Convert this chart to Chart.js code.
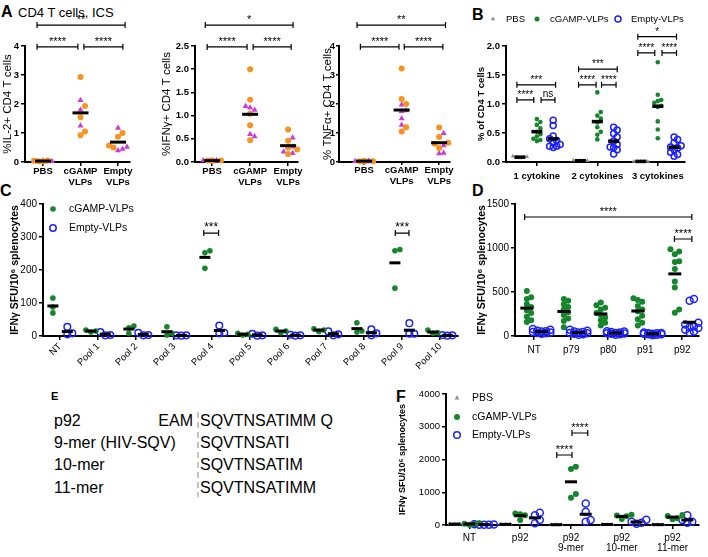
<!DOCTYPE html>
<html>
<head>
<meta charset="utf-8">
<script src="https://cdn.jsdelivr.net/npm/chart.js@4.4.1/dist/chart.umd.min.js"></script>
<style>
html, body { margin: 0; padding: 0; background: #fff; }
#page { position: relative; width: 708px; height: 557px; overflow: hidden; }
#page canvas, #page svg { position: absolute; left: 0; top: 0; }
</style>
</head>
<body>
<div id="page">
<svg width="708" height="557" font-family="Liberation Sans, Arial, sans-serif">
  <text x="1" y="17" font-size="16" font-weight="bold">A</text>
  <text x="18" y="17" font-size="13">CD4 T cells, ICS</text>
  <text x="472" y="20" font-size="16" font-weight="bold">B</text>
  <text x="0" y="196" font-size="16" font-weight="bold">C</text>
  <text x="472" y="196" font-size="16" font-weight="bold">D</text>
  <text x="51" y="400" font-size="11" font-weight="bold">E</text>
  <text x="396" y="402" font-size="16" font-weight="bold">F</text>
  <g font-size="16">
    <text x="54" y="426">p92</text>
    <text x="193" y="426" text-anchor="end">EAM</text>
    <text x="200" y="426">SQVTNSATIMM Q</text>
    <text x="54" y="448">9-mer (HIV-SQV)</text>
    <text x="200" y="448">SQVTNSATI</text>
    <text x="54" y="470">10-mer</text>
    <text x="200" y="470">SQVTNSATIM</text>
    <text x="54" y="493">11-mer</text>
    <text x="200" y="493">SQVTNSATIMM</text>
  </g>
  <line x1="198" y1="412" x2="198" y2="497" stroke="#888" stroke-width="1" stroke-dasharray="6 4"/>
</svg>
</div>
<script>
// ---- panel A: % cytokine+ CD4 T cells (orange circles / magenta triangles)
const groupsA = [['PBS'], ['cGAMP', 'VLPs'], ['Empty', 'VLPs']];
const il2Orange  = [[0.02, 0.03, 0.05, 0.04], [2.93, 1.93, 1.54, 0.92, 1.05], [1.0, 0.87, 0.57, 0.5]];
const il2Magenta = [[0.02, 0.03, 0.04], [2.13, 1.8, 1.25], [1.17, 0.52, 0.4, 0.45]];
const ifngOrange  = [[0.02, 0.03, 0.03, 0.04], [2.0, 1.34, 1.04, 0.79, 0.47], [0.7, 0.46, 0.31, 0.17, 0.27]];
const ifngMagenta = [[0.02, 0.03, 0.04], [1.2, 1.17, 1.12, 0.6, 0.55], [0.52, 0.33, 0.19, 0.22]];
const tnfOrange  = [[0.02, 0.03, 0.04, 0.03], [3.22, 2.17, 2.0, 1.2, 1.05], [1.19, 0.86, 0.66, 0.48, 0.63]];
const tnfMagenta = [[0.02, 0.03, 0.04], [1.78, 1.75, 1.97, 1.5, 1.28], [0.99, 0.57, 0.31, 0.29]];
const ticksA4 = [0, 1, 2, 3, 4];
const ticksA25 = [0, 0.5, 1, 1.5, 2, 2.5];

// ---- panel B: % of CD4 T cells by number of cytokines
const groupsB = ['1 cytokine', '2 cytokines', '3 cytokines'];
const bPbs = [[0.07, 0.09, 0.08, 0.1, 0.08], [0.02, 0.02, 0.03, 0.02, 0.02], [0.01, 0.01, 0.01, 0.01, 0.01]];
const bCgamp = [
  [0.74, 0.69, 0.64, 0.58, 0.52, 0.48, 0.44, 0.40, 0.36, 0.38],
  [1.2, 0.86, 0.8, 0.75, 0.68, 0.6, 0.52, 0.47, 0.39],
  [1.72, 1.16, 1.07, 1.05, 1.02, 0.97, 0.95, 0.7, 0.56, 0.41]];
const bEmpty = [
  [0.72, 0.63, 0.45, 0.40, 0.37, 0.33, 0.30, 0.27, 0.25, 0.27],
  [0.6, 0.55, 0.49, 0.43, 0.36, 0.3, 0.26, 0.21, 0.14, 0.25],
  [0.43, 0.39, 0.33, 0.28, 0.24, 0.21, 0.17, 0.13, 0.1, 0.26]];
const ticksB = [0, 0.5, 1, 1.5, 2];

// ---- panel C: IFNg SFU per peptide pool
const poolsC = ['NT', 'Pool 1', 'Pool 2', 'Pool 3', 'Pool 4', 'Pool 5', 'Pool 6', 'Pool 7', 'Pool 8', 'Pool 9', 'Pool 10'];
const cCgamp = [[115, 88, 70], [18, 12, 15], [30, 8, 25], [28, 3, 8], [258, 252, 205], [8, 3, 5],
  [20, 10, 15], [22, 14, 18], [40, 12, 15], [262, 258, 145], [18, 8, 10]];
const cEmpty = [[28, 8, 5], [12, 3, 2], [10, 2, 3], [2, 1, 2], [32, 8, 10], [7, 2, 1],
  [4, 1, 2], [14, 2, 5], [20, 2, 8], [39, 7, 7], [3, 1, 2]];
const ticksC = [0, 100, 200, 300, 400];

// ---- panel D: IFNg SFU per peptide
const peptidesD = ['NT', 'p79', 'p80', 'p91', 'p92'];
const dCgamp = [
  [510, 440, 420, 360, 330, 290, 260, 220, 180, 160],
  [420, 400, 360, 330, 300, 270, 240, 200, 170, 100],
  [380, 350, 320, 300, 260, 240, 210, 180, 150, 120],
  [430, 410, 390, 340, 300, 280, 230, 190, 150, 120],
  [985, 960, 930, 850, 840, 760, 620, 550, 300, 265]];
const dEmpty = [
  [80, 70, 60, 55, 50, 45, 40, 35, 30, 25],
  [70, 60, 50, 45, 40, 35, 30, 25, 20, 15],
  [55, 50, 45, 40, 35, 30, 28, 25, 20, 15],
  [40, 35, 30, 30, 25, 25, 20, 20, 15, 10],
  [420, 400, 150, 130, 110, 100, 90, 70, 50, 40]];
const ticksD = [0, 500, 1000, 1500];

// ---- panel F: IFNg SFU, p92 truncations
const groupsF = [['NT'], ['p92'], ['p92', '9-mer'], ['p92', '10-mer'], ['p92', '11-mer']];
const fPbs = [[20, 30, 40, 25], [20, 15, 25], [10, 5, 10], [20, 10, 15], [10, 15, 5]];
const fCgamp = [[40, 20, 10, 50], [350, 330, 300, 150], [1780, 1710, 950, 835], [310, 290, 270, 180], [275, 305, 205, 175]];
const fEmpty = [[10, 20, 15, 5, 10], [375, 295, 152, 52], [660, 405, 100, 150], [160, 100, 70, 40], [295, 155, 70, 100]];
const ticksF = [0, 1000, 2000, 3000, 4000];

// significance brackets: [from x, to x, y, label] in axis units
const sigA1 = [[-0.16, 2.19, 4.72, '**'], [-0.16, 0.93, 3.97, '****'], [1.09, 2.13, 3.97, '****']];
const sigA2 = [[-0.18, 2.13, 2.95, '*'], [-0.13, 0.92, 2.48, '****'], [1.08, 2.08, 2.48, '****']];
const sigA3 = [[-0.19, 2.17, 4.72, '**'], [-0.1, 0.93, 3.97, '****'], [1.07, 2.1, 3.97, '****']];
const sigB = [[-0.33, 0.31, 1.33, '***'], [-0.33, -0.05, 1.07, '****'], [0.07, 0.3, 1.07, 'ns'],
  [0.69, 1.33, 1.6, '***'], [0.69, 0.98, 1.33, '****'], [1.07, 1.31, 1.33, '****'],
  [1.67, 2.31, 2.16, '*'], [1.67, 1.95, 1.88, '****'], [2.07, 2.31, 1.88, '****']];
const sigC = [[3.78, 4.17, 312, '***'], [8.82, 9.18, 312, '***']];
const sigD = [[-0.26, 4.26, 1352, '****'], [3.79, 4.26, 1102, '****']];
const sigF = [[1.72, 2.02, 2137, '****'], [2.02, 2.33, 2809, '****']];

const GREEN = '#16862c', BLUE = '#1c22ff', ORANGE = '#f7931e', MAGENTA = '#d03ad4', GREY = '#8c8c8c';
const FONT = "'Liberation Sans', Arial, sans-serif";
Chart.defaults.font.family = FONT;
Chart.defaults.color = '#000';

function mean(a) { return a.reduce((s, v) => s + v, 0) / a.length; }

// spread points with near-equal values side by side (beeswarm-like)
function jitterGroup(lists, step, gap) {
  const all = [];
  lists.forEach((l, li) => l.forEach((v, vi) => all.push({ v, li, vi })));
  all.sort((a, b) => a.v - b.v);
  const slots = [0, 1, -1, 2, -2];
  const placed = [];
  const out = lists.map(l => l.map(() => 0));
  all.forEach((p, k) => {
    let slot = null;
    for (const s of slots) {
      if (placed.every(q => Math.abs(q.v - p.v) >= gap || q.s !== s)) { slot = s; break; }
    }
    if (slot === null) slot = slots[k % slots.length];
    placed.push({ v: p.v, s: slot });
    out[p.li][p.vi] = slot * step;
  });
  return out;
}

function drawMarker(ctx, shape, color, r, x, y) {
  ctx.beginPath();
  if (shape === 'triangle') {
    ctx.moveTo(x, y - r);
    ctx.lineTo(x + r * 0.87, y + r * 0.5);
    ctx.lineTo(x - r * 0.87, y + r * 0.5);
    ctx.closePath();
  } else {
    ctx.arc(x, y, r, 0, Math.PI * 2);
  }
  if (shape === 'ring') { ctx.strokeStyle = color; ctx.lineWidth = 1.5; ctx.stroke(); }
  else { ctx.fillStyle = color; ctx.fill(); }
}

// y title, significance brackets and legend
function overlay(p) {
  return {
    id: 'overlay',
    afterDatasetsDraw(chart) {
      const { ctx, chartArea } = chart;
      const xs = chart.scales.x, ys = chart.scales.y;
      ctx.save();
      ctx.save();
      ctx.translate(p.titleX, (chartArea.top + chartArea.bottom) / 2);
      ctx.rotate(-Math.PI / 2);
      ctx.font = (p.titleBold ? 'bold ' : '') + p.titleSize + 'px ' + FONT;
      ctx.fillStyle = '#000';
      ctx.textAlign = 'center'; ctx.textBaseline = 'middle';
      ctx.fillText(p.yTitle, 0, 0);
      ctx.restore();
      (p.brackets || []).forEach(b => {
        const x1 = xs.getPixelForValue(b[0]), x2 = xs.getPixelForValue(b[1]), yy = ys.getPixelForValue(b[2]);
        ctx.strokeStyle = '#000'; ctx.lineWidth = 1.2;
        ctx.beginPath();
        ctx.moveTo(x1, yy); ctx.lineTo(x2, yy);
        ctx.moveTo(x1, yy - 3); ctx.lineTo(x1, yy + 3);
        ctx.moveTo(x2, yy - 3); ctx.lineTo(x2, yy + 3);
        ctx.stroke();
        ctx.fillStyle = '#000';
        ctx.font = (p.starSize || 11) + 'px ' + FONT;
        ctx.textAlign = 'center'; ctx.textBaseline = 'alphabetic';
        ctx.fillText(b[3], (x1 + x2) / 2, b[3] === 'ns' ? yy - 3 : yy - 2);
      });
      (p.legend || []).forEach(l => {
        drawMarker(ctx, l.shape, l.color, l.r, l.x, l.y);
        ctx.fillStyle = '#000';
        ctx.font = p.legendSize + 'px ' + FONT;
        ctx.textAlign = 'left'; ctx.textBaseline = 'middle';
        ctx.fillText(l.text, l.x + p.legendGap, l.y + 0.5);
      });
      ctx.restore();
    }
  };
}

function build(p) {
  const cv = document.createElement('canvas');
  cv.width = 708; cv.height = 557;
  document.getElementById('page').appendChild(cv);
  const pxX = (p.R - p.L) / (p.xmax - p.xmin);
  const pxY = (p.B - p.T) / p.ymax;
  const step = p.stepPx / pxX, gap = p.gapPx / pxY;
  const padLeft = Math.max(0, p.L - 40);
  const pts = p.series.map(() => []);
  const means = [];
  p.labels.forEach((lab, g) => {
    if (p.together) {
      const lists = p.series.map(s => s.vals[g]);
      const offs = jitterGroup(lists, step, gap);
      lists.forEach((l, si) => l.forEach((v, vi) => pts[si].push({ x: g + offs[si][vi], y: v })));
      means.push({ x: g, y: mean([].concat(...lists)) });
    } else {
      p.series.forEach((s, si) => {
        const offs = jitterGroup([s.vals[g]], step, gap)[0];
        s.vals[g].forEach((v, vi) => pts[si].push({ x: g + s.off + offs[vi], y: v }));
        means.push({ x: g + s.off, y: mean(s.vals[g]) });
      });
    }
  });
  const datasets = p.series.map((s, si) => ({
    data: pts[si],
    pointStyle: s.shape === 'ring' ? 'circle' : s.shape,
    pointRadius: s.r,
    pointBackgroundColor: s.shape === 'ring' ? 'rgba(0,0,0,0)' : s.color,
    pointBorderColor: s.color,
    pointBorderWidth: s.shape === 'ring' ? 1.5 : 0,
    order: 1, clip: false
  }));
  datasets.push({
    data: means, pointStyle: 'line', pointRadius: p.barR, pointBorderWidth: p.barW,
    pointBorderColor: '#000', pointBackgroundColor: '#000', order: 0, clip: false
  });
  const axisGrid = { drawOnChartArea: false, drawTicks: true, tickLength: p.tickLen || 4, color: '#000', lineWidth: 1.5 };
  new Chart(cv, {
    type: 'scatter',
    data: { datasets },
    options: {
      responsive: false, animation: false, devicePixelRatio: 1, events: [],
      layout: { padding: { left: padLeft, top: p.T, right: 708 - p.R, bottom: 557 - p.B - p.xh } },
      plugins: { legend: { display: false }, tooltip: { enabled: false } },
      scales: {
        x: {
          type: 'linear', min: p.xmin, max: p.xmax,
          afterBuildTicks: sc => { sc.ticks = p.labels.map((l, i) => ({ value: i })); },
          afterFit: sc => { sc.height = p.xh; },
          ticks: {
            autoSkip: false, maxRotation: p.rot || 0, minRotation: p.rot || 0,
            padding: p.xPad, color: '#000', font: p.xFont,
            callback: v => p.labels[v]
          },
          grid: axisGrid,
          border: { display: true, color: '#000', width: 2 }
        },
        y: {
          type: 'linear', min: 0, max: p.ymax,
          afterBuildTicks: sc => { sc.ticks = p.yTicks.map(v => ({ value: v })); },
          afterFit: sc => { sc.width = p.L - padLeft; },
          ticks: {
            autoSkip: false, padding: p.yPad, color: '#000', font: p.yFont,
            callback: v => p.yDec ? v.toFixed(p.yDec) : String(v)
          },
          grid: axisGrid,
          border: { display: true, color: '#000', width: 2 }
        }
      }
    },
    plugins: [overlay(p)]
  });
}

const aCommon = {
  T: 46, B: 162, xh: 32, labels: groupsA, together: true,
  yFont: { size: 9.5, weight: 'bold' }, xFont: { size: 9.5, weight: 'bold', lineHeight: 1.15 },
  xPad: 0, yPad: 2, titleSize: 11.5, titleBold: false, barR: 8, barW: 3, stepPx: 4.5, gapPx: 5.5, starSize: 11
};

build(Object.assign({}, aCommon, {
  L: 25, R: 130, xmin: -0.48, xmax: 2.32, ymax: 4, yTicks: ticksA4, titleX: 8,
  yTitle: '%IL-2+ CD4 T cells', brackets: sigA1,
  series: [{ vals: il2Orange, shape: 'circle', color: ORANGE, r: 3 }, { vals: il2Magenta, shape: 'triangle', color: MAGENTA, r: 3.5 }]
}));
build(Object.assign({}, aCommon, {
  L: 195, R: 298, xmin: -0.45, xmax: 2.26, ymax: 2.5, yTicks: ticksA25, yDec: 1, titleX: 167,
  yTitle: '%IFNγ+ CD4 T cells', brackets: sigA2,
  series: [{ vals: ifngOrange, shape: 'circle', color: ORANGE, r: 3 }, { vals: ifngMagenta, shape: 'triangle', color: MAGENTA, r: 3.5 }]
}));
build(Object.assign({}, aCommon, {
  L: 339, R: 450, xmin: -0.67, xmax: 2.29, ymax: 4, yTicks: ticksA4, titleX: 327.5, yPad: 1, tickLen: 3,
  yTitle: '% TNFα+ CD4 T cells', brackets: sigA3,
  series: [{ vals: tnfOrange, shape: 'circle', color: ORANGE, r: 3 }, { vals: tnfMagenta, shape: 'triangle', color: MAGENTA, r: 3.5 }]
}));

build({
  L: 506, R: 685, T: 46, B: 162, xh: 30, xmin: -0.51, xmax: 2.45, ymax: 2, yTicks: ticksB, yDec: 1,
  labels: groupsB, titleX: 481, yTitle: '% of CD4 T cells', titleSize: 9.5, titleBold: true,
  yFont: { size: 9.5, weight: 'bold' }, xFont: { size: 9.5, weight: 'bold' }, xPad: 5, yPad: 2,
  barR: 5.5, barW: 3.5, stepPx: 3.5, gapPx: 4.5, starSize: 10, brackets: sigB,
  series: [
    { vals: bPbs, off: -0.28, shape: 'triangle', color: GREY, r: 2.5 },
    { vals: bCgamp, off: 0, shape: 'circle', color: GREEN, r: 2.3 },
    { vals: bEmpty, off: 0.27, shape: 'ring', color: BLUE, r: 3 }],
  legendSize: 9.5, legendGap: 13,
  legend: [
    { shape: 'triangle', color: GREY, r: 2.5, x: 493, y: 19, text: 'PBS' },
    { shape: 'circle', color: GREEN, r: 2.5, x: 537, y: 19, text: 'cGAMP-VLPs' },
    { shape: 'ring', color: BLUE, r: 3, x: 618, y: 19, text: 'Empty-VLPs' }]
});

build({
  L: 43, R: 458, T: 204, B: 336, xh: 45, xmin: -0.45, xmax: 10.47, ymax: 400, yTicks: ticksC,
  labels: poolsC, rot: 45, titleX: 15, yTitle: 'IFNγ SFU/10⁶ splenocytes', titleSize: 10.5, titleBold: true,
  yFont: { size: 10 }, xFont: { size: 9.5 }, xPad: 1, yPad: 2,
  barR: 5.5, barW: 3, stepPx: 5, gapPx: 5, starSize: 12, brackets: sigC,
  series: [
    { vals: cCgamp, off: -0.19, shape: 'circle', color: GREEN, r: 2.8 },
    { vals: cEmpty, off: 0.19, shape: 'ring', color: BLUE, r: 3.3 }],
  legendSize: 10.5, legendGap: 16,
  legend: [
    { shape: 'circle', color: GREEN, r: 2.8, x: 53, y: 209, text: 'cGAMP-VLPs' },
    { shape: 'ring', color: BLUE, r: 3.2, x: 53, y: 228, text: 'Empty-VLPs' }]
});

build({
  L: 515, R: 705, T: 204, B: 336, xh: 30, xmin: -0.52, xmax: 4.44, ymax: 1500, yTicks: ticksD,
  labels: peptidesD, titleX: 482, yTitle: 'IFNγ SFU/10⁶ splenocytes', titleSize: 10.5, titleBold: true,
  yFont: { size: 10 }, xFont: { size: 10 }, xPad: 4, yPad: 2,
  barR: 6.5, barW: 3, stepPx: 4.5, gapPx: 5, starSize: 11, brackets: sigD,
  series: [
    { vals: dCgamp, off: -0.2, shape: 'circle', color: GREEN, r: 3 },
    { vals: dEmpty, off: 0.2, shape: 'ring', color: BLUE, r: 3.5 }]
});

build({
  L: 446, R: 705, T: 394, B: 525, xh: 30, xmin: -0.46, xmax: 4.52, ymax: 4000, yTicks: ticksF,
  labels: groupsF, titleX: 403, yTitle: 'IFNγ SFU/10⁶ splenocytes', titleSize: 9, titleBold: true,
  yFont: { size: 9.5 }, xFont: { size: 10, lineHeight: 1.0 }, xPad: 4, yPad: 2,
  barR: 6, barW: 3, stepPx: 5, gapPx: 5, starSize: 11, brackets: sigF,
  series: [
    { vals: fPbs, off: -0.29, shape: 'triangle', color: GREY, r: 2.5 },
    { vals: fCgamp, off: 0, shape: 'circle', color: GREEN, r: 3 },
    { vals: fEmpty, off: 0.29, shape: 'ring', color: BLUE, r: 3.5 }],
  legendSize: 10.5, legendGap: 15,
  legend: [
    { shape: 'triangle', color: GREY, r: 2.8, x: 457, y: 398, text: 'PBS' },
    { shape: 'circle', color: GREEN, r: 3, x: 457, y: 417, text: 'cGAMP-VLPs' },
    { shape: 'ring', color: BLUE, r: 3.3, x: 457, y: 435, text: 'Empty-VLPs' }]
});
</script>
</body>
</html>
